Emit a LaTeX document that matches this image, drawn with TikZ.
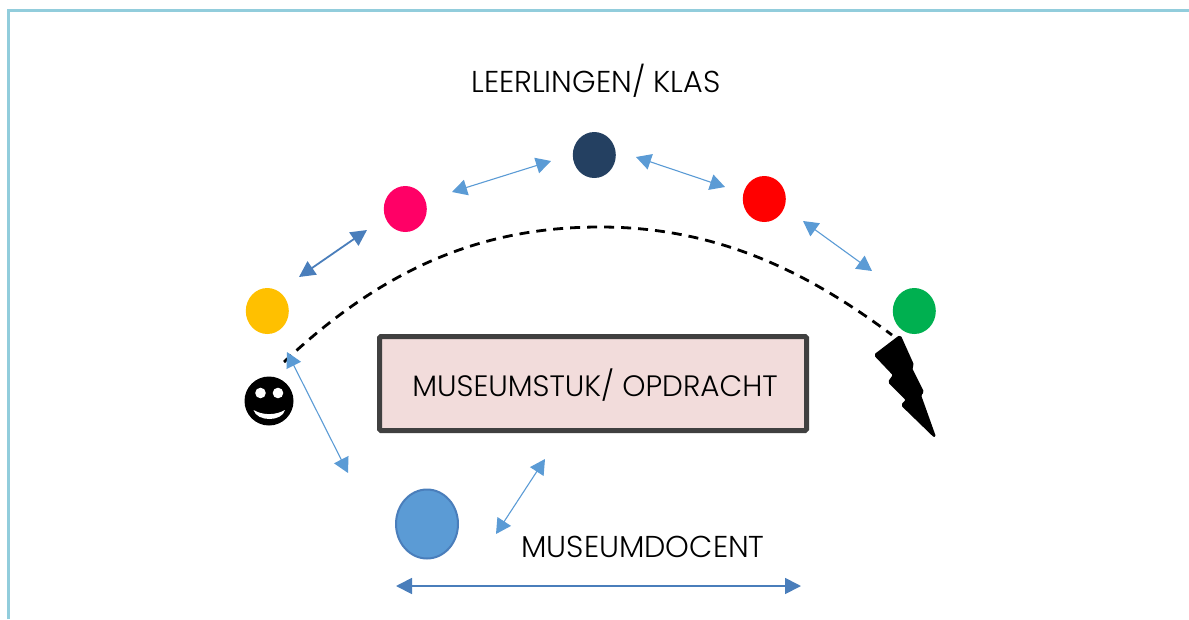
\documentclass[tikz,border=0pt]{standalone}
\usepackage{fontspec}
\setmainfont{Poppins Light}
\usetikzlibrary{arrows.meta,shapes.geometric}
\definecolor{frameblue}{HTML}{92CDDC}
\definecolor{lightarrow}{HTML}{5B9BD5}
\definecolor{darkarrow}{HTML}{4A7EBB}
\tikzset{
  pupil/.style={ellipse,minimum width=43pt,minimum height=46pt,inner sep=0pt},
  lightlink/.style={draw=lightarrow,line width=1.1pt,{Triangle[length=15pt,width=16pt]}-{Triangle[length=15pt,width=16pt]}},
  darklink/.style={draw=darkarrow,line width=1.8pt,{Triangle[length=16pt,width=16pt]}-{Triangle[length=16pt,width=16pt]}},
  label/.style={font=\fontsize{30.2}{34}\selectfont,text=black,inner sep=0pt},
}
\begin{document}
\begin{tikzpicture}[x=1pt,y=-1pt]
\useasboundingbox (0,0) rectangle (1189,619);
\draw[frameblue,line width=3.8pt] (8.5,619) -- (8.5,10.5) -- (1189,10.5);
\node[label] (klas) at (596,81) {LEERLINGEN/ KLAS};
\node[pupil,fill={rgb,255:red,255;green,192;blue,0}] (yellowp) at (267.3,311) {};
\node[pupil,fill={rgb,255:red,255;green,0;blue,102}] (pink) at (405.3,209) {};
\node[pupil,fill={rgb,255:red,36;green,64;blue,97}] (navy) at (594.3,155) {};
\node[pupil,fill=red] (redp) at (764.3,199) {};
\node[pupil,fill={rgb,255:red,0;green,176;blue,80}] (green) at (914.3,311) {};
\node[draw={rgb,255:red,64;green,64;blue,64},fill={rgb,255:red,242;green,220;blue,219},line width=5pt,rounded corners=1.5pt,minimum width=427pt,minimum height=94pt,inner sep=0pt] (piece) at (593,383.5) {};
\node[label,font=\fontsize{29.5}{34}\selectfont] (piecetext) at (595,385) {MUSEUMSTUK/ OPDRACHT};
\node[ellipse,draw=darkarrow,fill=lightarrow,line width=2pt,minimum width=62pt,minimum height=69pt,inner sep=0pt] (docent) at (427,524) {};
\node[label] (docenttext) at (643,547) {MUSEUMDOCENT};
% smiley
\node[circle,fill=black,minimum size=49pt,inner sep=0pt] (smiley) at (269,401) {};
\fill[white] (260.5,393) circle (5.3);
\fill[white] (278,393) circle (5.3);
\fill[white] (253.5,410) .. controls (263,415.5) and (275,415.5) .. (285,410) .. controls (282,422) and (257,422) .. (253.5,410) -- cycle;
% dashed arc
\coordinate (arcL) at (284,362);
\coordinate (arcR) at (892,335);
\draw[black,line width=2.8pt,dash pattern=on 10pt off 7pt] (arcL) .. controls (390,262) and (490,227) .. (600,227) .. controls (715,227) and (805,270) .. (arcR);
% lightning
\fill[black,draw=black,line width=2pt,line join=round,rounded corners=1.5pt] (900,336) -- (875,355) -- (894,375) -- (889,382) -- (907,400) -- (902,405) -- (935,437) -- (920,395) -- (923,392) -- (911,368) -- (913,365) -- cycle;
% arrows
\coordinate (a1) at (299,277); \coordinate (a2) at (367,230);
\coordinate (b1) at (452,192); \coordinate (b2) at (551,161);
\coordinate (c1) at (636,157); \coordinate (c2) at (725,187);
\coordinate (d1) at (803,221); \coordinate (d2) at (872,271);
\coordinate (e1) at (287,352); \coordinate (e2) at (348,473);
\coordinate (f1) at (496,534); \coordinate (f2) at (545,459);
\coordinate (g1) at (396,586); \coordinate (g2) at (801,586);
\draw[darklink] (a1) -- (a2);
\draw[lightlink] (b1) -- (b2);
\draw[lightlink] (c1) -- (c2);
\draw[lightlink] (d1) -- (d2);
\draw[lightlink] (e1) -- (e2);
\draw[lightlink] (f1) -- (f2);
\draw[darklink] (g1) -- (g2);
\end{tikzpicture}
\end{document}
